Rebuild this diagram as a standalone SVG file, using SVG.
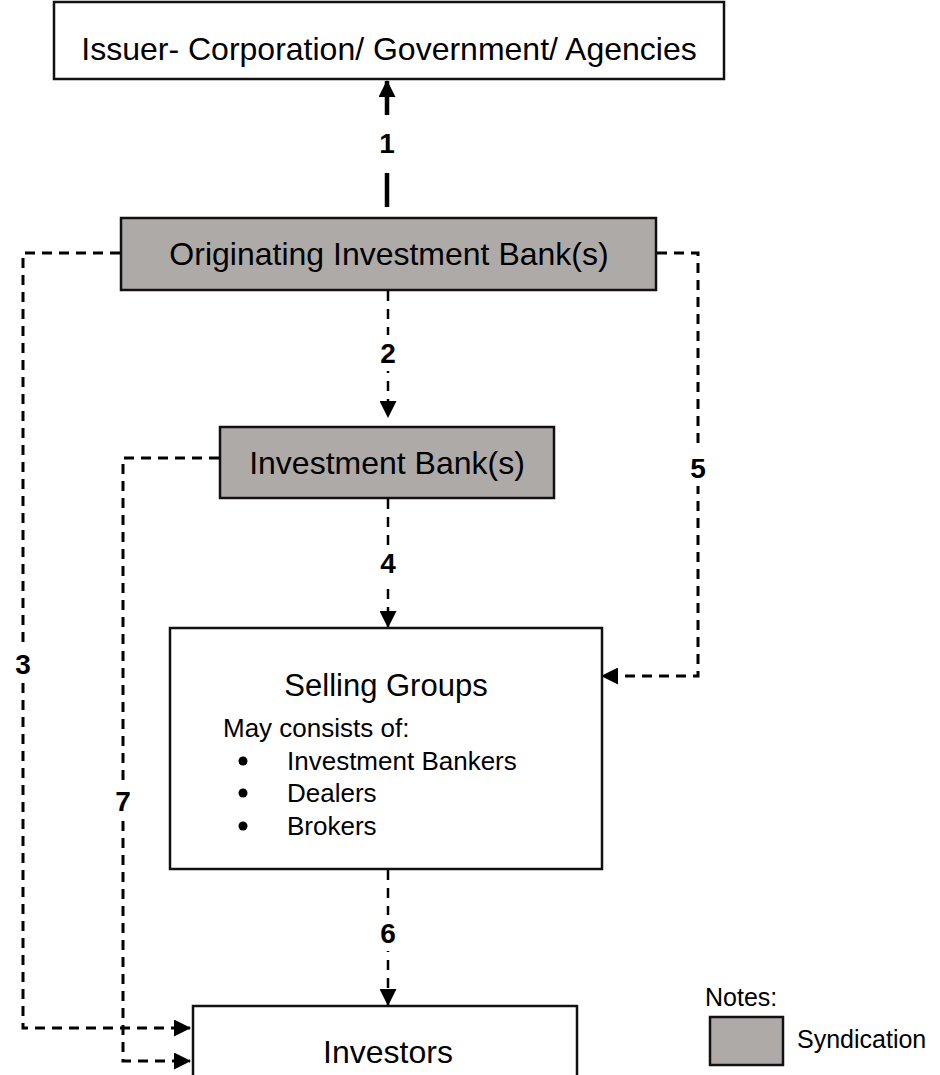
<svg xmlns="http://www.w3.org/2000/svg" width="940" height="1075" viewBox="0 0 940 1075">
<style>
.box{stroke:#111;stroke-width:2.5}
.white{fill:#fff}
.gray{fill:#aeaaa8}
.t{font-family:"Liberation Sans",Arial,sans-serif;fill:#000}
.big{font-size:32px;text-anchor:middle}
.lbl{font-size:28px;font-weight:bold;text-anchor:middle}
.dash{fill:none;stroke:#000;stroke-width:3;stroke-dasharray:10 7}
.vdash{fill:none;stroke:#000;stroke-width:2.5;stroke-dasharray:10 8}
.solid{fill:none;stroke:#000;stroke-width:4.5}
</style>
<defs>
<marker id="ah" markerUnits="userSpaceOnUse" markerWidth="17" markerHeight="17" viewBox="0 0 17 17" refX="16" refY="8.5" orient="auto">
<path d="M0,0 L17,8.5 L0,17 Z" fill="#000"/>
</marker>
</defs>
<rect width="940" height="1075" fill="#fff"/>
<g id="connectors">
<line class="solid" x1="387" y1="115" x2="387" y2="81" marker-end="url(#ah)"/>
<line class="solid" x1="387" y1="207" x2="387" y2="173"/>
<line class="vdash" x1="388" y1="291" x2="388" y2="417" marker-end="url(#ah)"/>
<line class="vdash" x1="388" y1="499" x2="388" y2="627" marker-end="url(#ah)"/>
<line class="vdash" x1="388" y1="870" x2="388" y2="1005" marker-end="url(#ah)"/>
<polyline class="dash" points="120,253 23,253 23,1028 190,1028" marker-end="url(#ah)"/>
<polyline class="dash" points="219,458 123,458 123,1061 190,1061" marker-end="url(#ah)"/>
<polyline class="dash" points="657,253 698,253 698,676 602,676" marker-end="url(#ah)"/>
</g>
<g id="labels">
<rect x="372" y="125" width="30" height="36" fill="#fff"/>
<text class="t lbl" x="387" y="153">1</text>
<rect x="372" y="335" width="32" height="36" fill="#fff"/>
<text class="t lbl" x="388" y="363">2</text>
<rect x="372" y="545" width="32" height="36" fill="#fff"/>
<text class="t lbl" x="388" y="573">4</text>
<rect x="372" y="915" width="32" height="36" fill="#fff"/>
<text class="t lbl" x="388" y="943">6</text>
<rect x="8" y="646" width="30" height="36" fill="#fff"/>
<text class="t lbl" x="23" y="674">3</text>
<rect x="683" y="450" width="30" height="36" fill="#fff"/>
<text class="t lbl" x="698" y="478">5</text>
<rect x="108" y="783" width="30" height="36" fill="#fff"/>
<text class="t lbl" x="123" y="811">7</text>
</g>
<g id="issuer">
<rect class="box white" x="54" y="2" width="670" height="77"/>
<text class="t big" x="389" y="60">Issuer- Corporation/ Government/ Agencies</text>
</g>
<g id="originating">
<rect class="box gray" x="121" y="218" width="535" height="72"/>
<text class="t big" x="389" y="265">Originating Investment Bank(s)</text>
</g>
<g id="investment-bank">
<rect class="box gray" x="220" y="427" width="334" height="71"/>
<text class="t big" x="387" y="474">Investment Bank(s)</text>
</g>
<g id="selling-groups">
<rect class="box white" x="170" y="628" width="432" height="241"/>
<text class="t" x="386" y="696" font-size="31" text-anchor="middle">Selling Groups</text>
<text class="t" x="223" y="737" font-size="26">May consists of:</text>
<circle cx="243" cy="761" r="4.5" fill="#000"/>
<text class="t" x="287" y="770" font-size="26">Investment Bankers</text>
<circle cx="243" cy="793" r="4.5" fill="#000"/>
<text class="t" x="287" y="802" font-size="26">Dealers</text>
<circle cx="243" cy="826" r="4.5" fill="#000"/>
<text class="t" x="287" y="835" font-size="26">Brokers</text>
</g>
<g id="investors">
<rect class="box white" x="193" y="1006" width="384" height="80"/>
<text class="t big" x="388" y="1063">Investors</text>
</g>
<g id="notes">
<text class="t" x="705" y="1006" font-size="25">Notes:</text>
<rect class="box gray" x="710" y="1017" width="73" height="48"/>
<text class="t" x="797" y="1048" font-size="25">Syndication</text>
</g>
</svg>
